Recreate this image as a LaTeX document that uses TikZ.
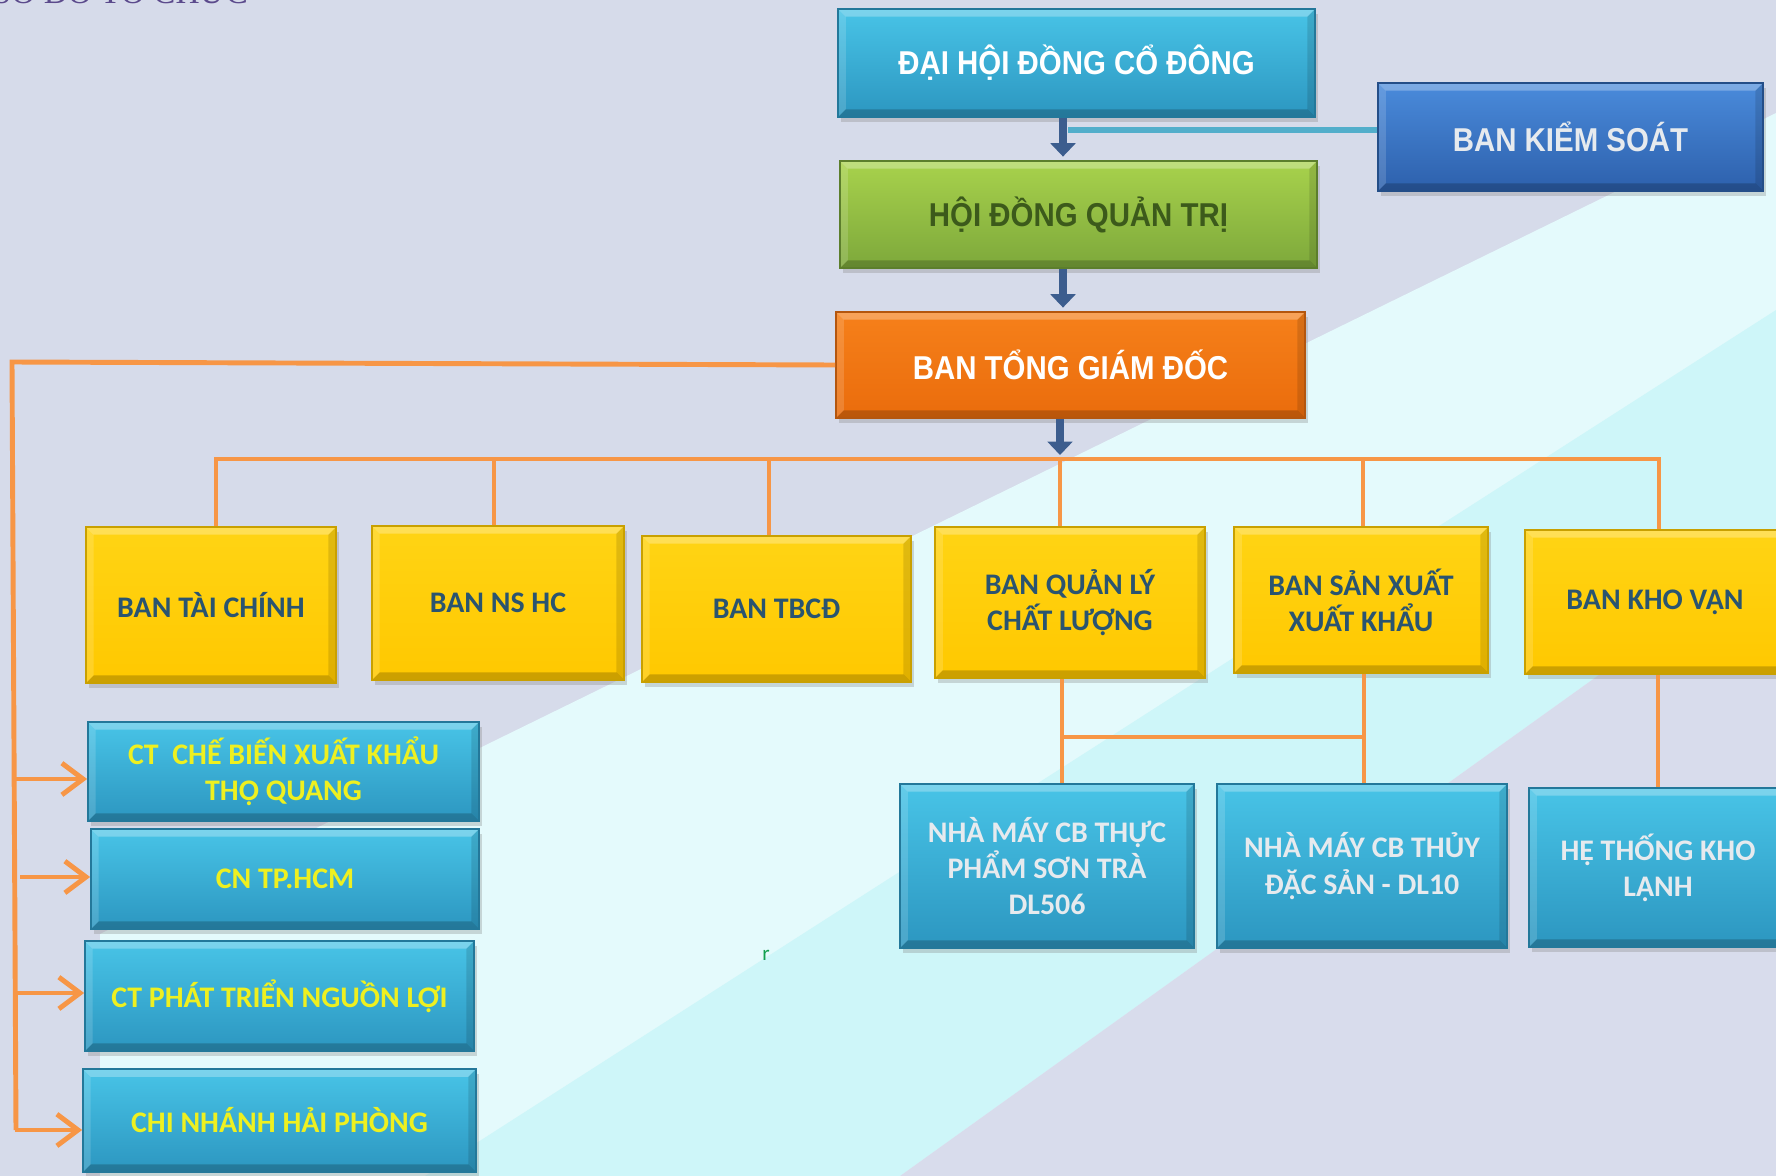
\documentclass[tikz,border=0pt]{standalone}
\usepackage{fontspec}
\setmainfont{Carlito}
\newfontfamily\arialf{Liberation Sans}
\newfontfamily\timesf{Liberation Serif}
\usetikzlibrary{arrows.meta,shadows,calc}

\definecolor{bglav}{HTML}{D6DBEA}
\definecolor{bgcyanA}{HTML}{E4FAFC}
\definecolor{bgcyanB}{HTML}{CEF6F9}
\definecolor{bglavB}{HTML}{D8DCEC}
\definecolor{cyanT}{HTML}{48C4E7}
\definecolor{cyanB}{HTML}{2C96C0}
\definecolor{cyanD}{HTML}{23789A}
\definecolor{blueT}{HTML}{4A8BDB}
\definecolor{blueB}{HTML}{2D60AC}
\definecolor{blueD}{HTML}{244E88}
\definecolor{greenT}{HTML}{A8D24C}
\definecolor{greenB}{HTML}{7DA83B}
\definecolor{greenD}{HTML}{5C7E2C}
\definecolor{orangeT}{HTML}{F6801A}
\definecolor{orangeB}{HTML}{EA6C0C}
\definecolor{orangeD}{HTML}{B4560E}
\definecolor{yellowT}{HTML}{FFD414}
\definecolor{yellowB}{HTML}{FFC800}
\definecolor{yellowD}{HTML}{C9A000}
\definecolor{ytext}{HTML}{2A5470}
\definecolor{ltext}{HTML}{EEF020}
\definecolor{gtext}{HTML}{E6EAEE}
\definecolor{greentext}{HTML}{3C5A1B}
\definecolor{arrowblue}{HTML}{3C5D8E}
\definecolor{orangeL}{HTML}{F79646}
\definecolor{tealL}{HTML}{52AECB}
\definecolor{titlepurple}{HTML}{5B4A8C}
\definecolor{rgreen}{HTML}{12A050}

\tikzset{
  bevel/.style={path picture={
    \fill[white,opacity=0.28] (path picture bounding box.north west) -- (path picture bounding box.north east)
      -- ([shift={(-2.2pt,-2.2pt)}]path picture bounding box.north east) -- ([shift={(2.2pt,-2.2pt)}]path picture bounding box.north west) -- cycle;
    \fill[white,opacity=0.15] (path picture bounding box.north west) -- (path picture bounding box.south west)
      -- ([shift={(2.2pt,2.2pt)}]path picture bounding box.south west) -- ([shift={(2.2pt,-2.2pt)}]path picture bounding box.north west) -- cycle;
    \fill[black,opacity=0.2] (path picture bounding box.south west) -- (path picture bounding box.south east)
      -- ([shift={(-2.2pt,2.2pt)}]path picture bounding box.south east) -- ([shift={(2.2pt,2.2pt)}]path picture bounding box.south west) -- cycle;
    \fill[black,opacity=0.12] (path picture bounding box.south east) -- (path picture bounding box.north east)
      -- ([shift={(-2.2pt,-2.2pt)}]path picture bounding box.north east) -- ([shift={(-2.2pt,2.2pt)}]path picture bounding box.south east) -- cycle;
  }},
  wh/.style 2 args={minimum width=#1*0.01cm, minimum height=#2*0.01cm},
  boxbase/.style={rectangle, inner sep=0pt, line width=0.5pt, align=center,
    drop shadow={opacity=0.3, shadow xshift=0.9pt, shadow yshift=-1.3pt}, bevel},
  cyanbox/.style={boxbase, top color=cyanT, bottom color=cyanB, draw=cyanD},
  bluebox/.style={boxbase, top color=blueT, bottom color=blueB, draw=blueD},
  greenbox/.style={boxbase, top color=greenT, bottom color=greenB, draw=greenD},
  orangebox/.style={boxbase, top color=orangeT, bottom color=orangeB, draw=orangeD},
  yellowbox/.style={boxbase, top color=yellowT, bottom color=yellowB, draw=yellowD, text=ytext},
  arialtxt/.style={font=\arialf\bfseries\fontsize{9.4}{11}\selectfont},
  calitxt/.style={font=\bfseries\fontsize{8.5}{10.3}\selectfont},
  barrow/.style={draw=arrowblue, line width=2.2pt, -{Triangle[length=3.8pt,width=7pt]}},
  oline/.style={draw=orangeL, line width=1.4pt},
  oarrow/.style={oline, -{Straight Barb[length=6pt,width=9pt]}},
  tline/.style={draw=tealL, line width=1.6pt}
}
\newcommand{\nar}[1]{\scalebox{0.89}[1]{#1}}

\begin{document}
\begin{tikzpicture}[x=0.01cm,y=-0.01cm]
\useasboundingbox (0,0) rectangle (1776,1176);
\clip (0,0) rectangle (1776,1176);

% background
\fill[bglav] (0,0) rectangle (1776,1176);
\fill[bgcyanA] (100,934) -- (1776,113) -- (1776,1176) -- (100,1176) -- cycle;
\fill[bgcyanB] (1776,310) -- (425,1176) -- (900,1176) -- (1776,548) -- cycle;
\fill[bglavB] (900,1176) -- (1776,548) -- (1776,1176) -- cycle;

% title (cut off at top)
\node[anchor=base west, inner sep=0pt, text=titlepurple, font=\timesf\fontsize{9.5}{10}\selectfont] (title) at (-8,4) {SƠ ĐỒ TỔ CHỨC};

% top boxes
\node[cyanbox, arialtxt, text=white, wh={477}{108}] (dh) at (1076.5,63) {\nar{ĐẠI HỘI ĐỒNG CỔ ĐÔNG}};
\node[bluebox, arialtxt, text=gtext, wh={385}{108}] (bks) at (1570.5,137) {\nar{BAN KIỂM SOÁT}};
\node[greenbox, arialtxt, text=greentext, wh={477}{107}] (hd) at (1078.5,214.5) {\nar{HỘI ĐỒNG QUẢN TRỊ}};
\node[orangebox, arialtxt, text=white, wh={469}{106}] (tgd) at (1070.5,365) {\nar{BAN TỔNG GIÁM ĐỐC}};

% yellow row
\node[yellowbox, calitxt, wh={250}{156}] (y1) at (211,605) {BAN TÀI CHÍNH};
\node[yellowbox, calitxt, wh={252}{154}] (y2) at (498,603) {BAN NS HC};
\node[yellowbox, calitxt, wh={269}{146}] (y3) at (776.5,609) {BAN TBCĐ};
\node[yellowbox, calitxt, wh={270}{151}] (y4) at (1070,602.5) {BAN QUẢN LÝ\\CHẤT LƯỢNG};
\node[yellowbox, calitxt, wh={254}{146}] (y5) at (1361,600) {BAN SẢN XUẤT\\XUẤT KHẨU};
\node[yellowbox, calitxt, wh={260}{144}] (y6) at (1655,602) {BAN KHO VẬN};

% left branch boxes
\node[cyanbox, calitxt, text=ltext, wh={391}{99}] (c1) at (283.5,771.5) {CT\ \ CHẾ BIẾN XUẤT KHẨU\\THỌ QUANG};
\node[cyanbox, calitxt, text=ltext, wh={388}{100}] (c2) at (285,879) {CN TP.HCM};
\node[cyanbox, calitxt, text=ltext, wh={389}{110}] (c3) at (279.5,996) {CT PHÁT TRIỂN NGUỒN LỢI};
\node[cyanbox, calitxt, text=ltext, wh={393}{103}] (c4) at (279.5,1120.5) {CHI NHÁNH HẢI PHÒNG};

% bottom right boxes
\node[cyanbox, calitxt, text=gtext, wh={294}{164}] (n1) at (1047,866) {NHÀ MÁY CB THỰC\\PHẨM SƠN TRÀ\\DL506};
\node[cyanbox, calitxt, text=gtext, wh={290}{164}] (n2) at (1362,866) {NHÀ MÁY CB THỦY\\ĐẶC SẢN - DL10};
\node[cyanbox, calitxt, text=gtext, wh={258}{159}] (n3) at (1658,867.5) {HỆ THỐNG KHO\\LẠNH};

% stray letter
\node[inner sep=0pt, text=rgreen, font=\fontsize{6}{7}\selectfont] (r) at (766,955) {r};

% coordinates for connectors
\coordinate (xa) at (1063,0);
\coordinate (bx) at (1060,455);
\coordinate (kx) at (1068,130);
\coordinate (d1) at (216,459);
\coordinate (d2) at (494,459);
\coordinate (d3) at (769,459);
\coordinate (d4) at (1060,459);
\coordinate (d5) at (1363,459);
\coordinate (d6) at (1659,459);
\coordinate (lt) at (12,362);
\coordinate (lb) at (16,1130);
\coordinate (t1) at (15,779);
\coordinate (t2) at (20,877);
\coordinate (t3) at (17,993);
\coordinate (t4) at (15,1130);
\coordinate (q1) at (1062,737);
\coordinate (q2) at (1364,737);
\coordinate (q3) at (1658,0);

% blue arrows
\draw[barrow] (dh.south -| xa) -- ([yshift=1pt]hd.north -| xa);
\draw[barrow] (hd.south -| xa) -- ([yshift=1pt]tgd.north -| xa);
\draw[tline] (kx) -- (kx -| bks.west);

% orange bus
\draw[oline] (d1 |- y1.north) -- (d1) -- (d6) -- (d6 |- y6.north);
\draw[oline] (d2) -- (d2 |- y2.north);
\draw[oline] (d3) -- (d3 |- y3.north);
\draw[oline] (d4) -- (d4 |- y4.north);
\draw[oline] (d5) -- (d5 |- y5.north);
\draw[barrow] (tgd.south -| bx) -- (bx);

% left trunk
\draw[oline] (tgd.west) -- (lt) -- (lb);
\draw[oarrow] (t1) -- (t1 -| c1.west);
\draw[oarrow] (t2) -- (t2 -| c2.west);
\draw[oarrow] (t3) -- (t3 -| c3.west);
\draw[oarrow] (t4) -- (t4 -| c4.west);

% lower connectors
\draw[oline] (y4.south -| q1) -- (n1.north -| q1);
\draw[oline] (y5.south -| q2) -- (n2.north -| q2);
\draw[oline] (q1) -- (q2);
\draw[oline] (y6.south -| q3) -- (n3.north -| q3);
\end{tikzpicture}
\end{document}
